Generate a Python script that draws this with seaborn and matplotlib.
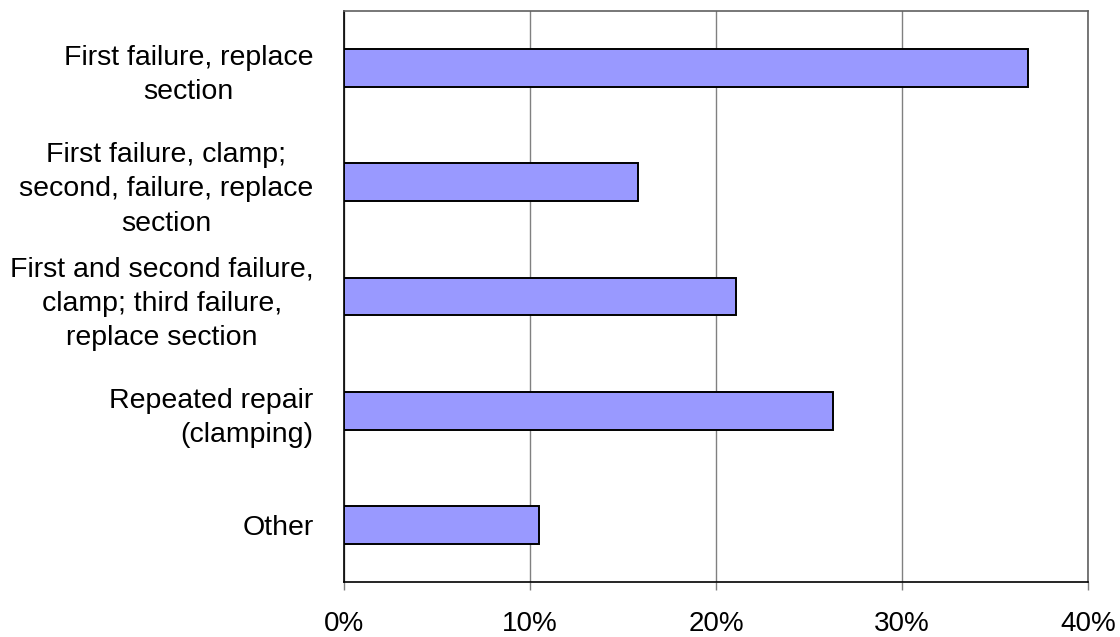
import matplotlib
matplotlib.use("Agg")
import matplotlib.pyplot as plt
from matplotlib.ticker import FuncFormatter, MultipleLocator
import seaborn as sns
import pandas as pd

# Repair strategies and share of cases (%)
strategies = [
    "First failure, replace\nsection",
    "First failure, clamp;\nsecond, failure, replace\nsection",
    "First and second failure,\nclamp; third failure,\nreplace section",
    "Repeated repair\n(clamping)",
    "Other",
]
shares = [36.8, 15.8, 21.1, 26.3, 10.5]
label_align = ["center", "center", "center", "right", "right"]

df = pd.DataFrame({"strategy": strategies, "share": shares})

sns.set_theme(style="white")
plt.rcParams["font.family"] = ["Liberation Sans", "DejaVu Sans"]

fig = plt.figure(figsize=(11.2, 6.37), dpi=100)
ax = fig.add_axes([0.3071, 0.0859, 0.6643, 0.8973])

sns.barplot(data=df, y="strategy", x="share", orient="h", order=strategies,
            color="#9999FF", saturation=1, edgecolor="black", linewidth=1.4,
            width=0.33, ax=ax, zorder=3)

ax.set_xlim(0, 40)
ax.set_ylim(4.5, -0.5)
ax.xaxis.set_major_locator(MultipleLocator(10))
ax.xaxis.set_major_formatter(FuncFormatter(lambda v, _: f"{v:.0f}%"))
ax.grid(axis="x", color="#808080", linewidth=1.0, zorder=0)
ax.grid(axis="y", visible=False)
ax.set_xlabel("")
ax.set_ylabel("")

for name in ["left", "bottom"]:
    ax.spines[name].set_color("black")
    ax.spines[name].set_linewidth(1.2)
for name in ["top", "right"]:
    ax.spines[name].set_color("#606060")
    ax.spines[name].set_linewidth(1.2)

ax.tick_params(axis="x", bottom=True, direction="out", length=6, width=1,
               color="#808080", labelsize=20, pad=15, labelcolor="black")
ax.tick_params(axis="y", left=False, length=0, labelsize=20.5, pad=22,
               labelcolor="black")

for lbl, al in zip(ax.get_yticklabels(), label_align):
    lbl.set_multialignment(al)
    lbl.set_linespacing(1.42)

fig.savefig("out.png", dpi=100, facecolor="white")
